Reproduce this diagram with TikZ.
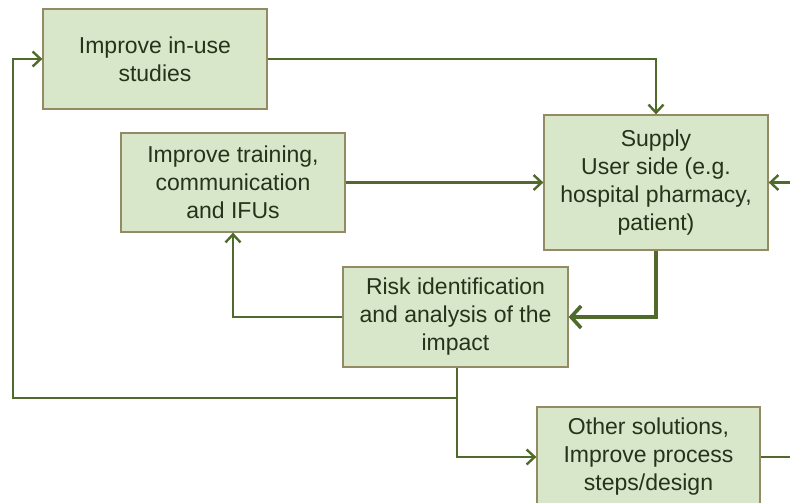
\documentclass[tikz,border=0pt]{standalone}
\usepackage{fontspec}
\setmainfont{Liberation Sans}
\usetikzlibrary{arrows.meta}
\definecolor{boxfill}{HTML}{D8E7C9}
\definecolor{boxborder}{HTML}{948A64}
\definecolor{linegreen}{HTML}{4F6A2A}
\definecolor{textgreen}{HTML}{24331A}
\tikzset{
  pbox/.style={draw=boxborder, fill=boxfill, line width=1.3pt, inner sep=0pt,
    align=center, text=textgreen, font=\fontsize{23}{28}\selectfont},
  conn/.style={draw=linegreen, line width=2.6pt, -{Straight Barb[length=8pt,width=15pt,line width=2.4pt]}},
  thickconn/.style={draw=linegreen, line width=4pt, -{Straight Barb[length=10pt,width=22pt,line width=3.6pt]}},
  plain/.style={draw=linegreen, line width=2.6pt}
}
\begin{document}
\begin{tikzpicture}[x=1pt,y=-1pt]
\clip (0,0) rectangle (790,503);
\fill[white] (0,0) rectangle (790,503);
\node[pbox, minimum width=224pt, minimum height=100pt] (A) at (155,59) {Improve in-use\\studies};
\node[pbox, minimum width=224pt, minimum height=135pt] (B) at (656,182.5) {Supply\\User side (e.g.\\hospital pharmacy,\\patient)};
\node[pbox, minimum width=224pt, minimum height=99pt] (C) at (233,182.5) {Improve training,\\communication\\and IFUs};
\node[pbox, minimum width=225pt, minimum height=100pt] (D) at (455.5,317) {Risk identification\\and analysis of the\\impact};
\node[pbox, minimum width=223pt, minimum height=100pt] (E) at (648.5,457) {Other solutions,\\Improve process\\steps/design};
\coordinate (rin) at (790,182.5);
\coordinate (rout) at (790,457);
\coordinate (j) at (457,398);
% connectors
\draw[conn] (A.east) -| (B.north);
\draw[conn] (C.east) -- (B.west);
\draw[conn] (rin) -- (B.east);
\draw[thickconn] (B.south) |- (D.east);
\draw[conn] (D.west) -| (C.south);
\draw[plain] (D.south -| j) -- (j);
\draw[conn] (j) -- (13,398) |- (A.west);
\draw[conn] (j) |- (E.west);
\draw[plain] (E.east) -- (rout);
\end{tikzpicture}
\end{document}
